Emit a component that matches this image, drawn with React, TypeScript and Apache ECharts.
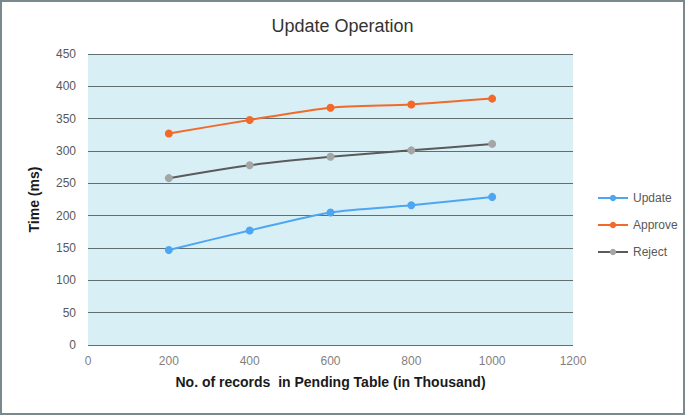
import React, { useEffect, useRef } from "react";
import * as echarts from "echarts";

const xValues = [200, 400, 600, 800, 1000];
const updateValues = [147, 177, 205, 216, 229];
const approveValues = [327, 348, 367, 372, 381];
const rejectValues = [258, 278, 291, 301, 311];

const FONT = "'Liberation Sans', Arial, sans-serif";

export default function App() {
  const ref = useRef<HTMLDivElement>(null);
  useEffect(() => {
    document.body.style.margin = "0";
    const chart = echarts.init(ref.current!, null, { renderer: "svg" });
    const mk = (vals: number[]) => vals.map((v, i) => [xValues[i], v]);
    chart.setOption({
      animation: false,
      backgroundColor: "#ffffff",
      graphic: [
        {
          type: "rect",
          shape: { x: 1, y: 1, width: 683, height: 413 },
          style: { fill: "none", stroke: "#7a8a8c", lineWidth: 2 },
          silent: true,
        },
      ],
      title: {
        text: "Update Operation",
        left: "center",
        top: 12,
        textStyle: { fontFamily: FONT, fontSize: 18, fontWeight: "normal", color: "#333333" },
      },
      legend: {
        orient: "vertical",
        left: 592,
        top: 187,
        itemGap: 15,
        itemWidth: 30,
        itemHeight: 8,
        textStyle: { fontFamily: FONT, fontSize: 12, color: "#595959" },
        data: ["Update", "Approve", "Reject"],
      },
      grid: {
        left: 88,
        right: 112,
        top: 54,
        bottom: 70,
        show: true,
        backgroundColor: "#d8eff6",
        borderWidth: 0,
      },
      xAxis: {
        type: "value",
        min: 0,
        max: 1200,
        interval: 200,
        name: "No. of records  in Pending Table (in Thousand)",
        nameLocation: "middle",
        nameGap: 30,
        nameTextStyle: { fontFamily: FONT, fontSize: 14, fontWeight: "bold", color: "#1a1a1a" },
        axisLine: { show: false },
        axisTick: { show: false },
        splitLine: { show: false },
        axisLabel: {
          fontFamily: FONT,
          fontSize: 12,
          color: "#7f7f7f",
          margin: 10,
          formatter: (v: number) => String(v),
        },
      },
      yAxis: {
        type: "value",
        min: 0,
        max: 450,
        interval: 50,
        name: "Time (ms)",
        nameLocation: "middle",
        nameGap: 47,
        nameRotate: 90,
        nameTextStyle: { fontFamily: FONT, fontSize: 14, fontWeight: "bold", color: "#1a1a1a" },
        axisLine: { show: false },
        axisTick: { show: false },
        splitLine: { show: true, lineStyle: { color: "#5f6f70", width: 1 } },
        axisLabel: { fontFamily: FONT, fontSize: 12, color: "#595959", margin: 12 },
      },
      series: [
        {
          name: "Update",
          type: "line",
          data: mk(updateValues),
          smooth: 0.25,
          symbol: "circle",
          symbolSize: 8,
          lineStyle: { color: "#4da6f2", width: 2 },
          itemStyle: { color: "#4da6f2" },
        },
        {
          name: "Approve",
          type: "line",
          data: mk(approveValues),
          smooth: 0.25,
          symbol: "circle",
          symbolSize: 8,
          lineStyle: { color: "#f26a2a", width: 2 },
          itemStyle: { color: "#f26a2a" },
        },
        {
          name: "Reject",
          type: "line",
          data: mk(rejectValues),
          smooth: 0.25,
          symbol: "circle",
          symbolSize: 8,
          lineStyle: { color: "#5a5a5a", width: 2 },
          itemStyle: { color: "#a5a5a5" },
        },
      ],
    });
    return () => chart.dispose();
  }, []);
  return (
    <div
      ref={ref}
      style={{ width: 685, height: 415, position: "absolute", left: 0, top: 0 }}
    />
  );
}
